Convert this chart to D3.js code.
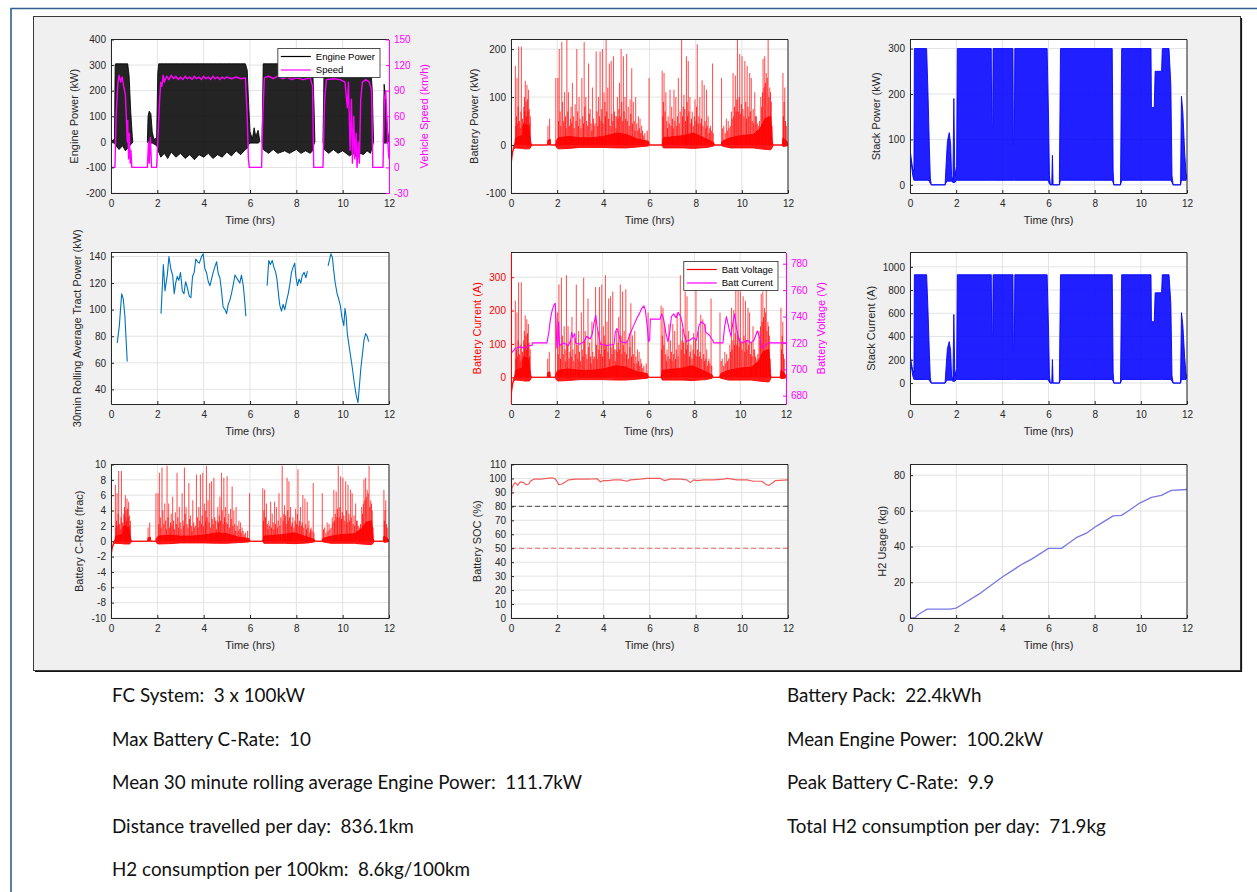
<!DOCTYPE html>
<html>
<head>
<meta charset="utf-8">
<script src="https://cdn.jsdelivr.net/npm/d3@7"></script>
<style>
body { margin: 0; background: #fff; }
svg { display: block; }
</style>
</head>
<body>
<script>
// ---------- data ----------
const timeTicks = [0, 2, 4, 6, 8, 10, 12];
const enginePowerTicks = [-200, -100, 0, 100, 200, 300, 400];
const speedTicks = [-30, 0, 30, 60, 90, 120, 150];
const battPowerTicks = [-100, 0, 100, 200];
const stackPowerTicks = [0, 100, 200, 300];
const rollTicks = [40, 60, 80, 100, 120, 140];
const battCurrentTicks = [0, 100, 200, 300];
const battVoltTicks = [680, 700, 720, 740, 760, 780];
const stackCurrentTicks = [0, 200, 400, 600, 800, 1000];
const cRateTicks = [-10, -8, -6, -4, -2, 0, 2, 4, 6, 8, 10];
const socTicks = [0, 10, 20, 30, 40, 50, 60, 70, 80, 90, 100, 110];
const h2Ticks = [0, 20, 40, 60, 80];

const legend1 = ["Engine Power", "Speed"];
const legend5 = ["Batt Voltage", "Batt Current"];

const packKWh = 22.4;      // battery pack size
const battVoltNom = 720;   // V, nominal pack voltage
const stackVolt = 322;     // V, stack voltage at rated power

// engine power envelope [t hrs, low kW, high kW]
const engineBand = [
  [0, -2, 2], [0.15, -5, 10], [0.18, -10, 300], [0.2, -15, 305], [0.35, -30, 305], [0.5, -15, 305], [0.62, -35, 305],
  [0.72, -25, 305], [0.78, -20, 260], [0.85, -10, 120], [0.92, -5, 20], [0.94, 0, 2], [0.95, null, null],
  [1.57, 0, 2], [1.6, -5, 100], [1.65, -8, 120], [1.72, -5, 110], [1.78, -5, 40], [1.85, -8, 10],
  [1.97, -15, 15], [2.02, -25, 270], [2.06, -40, 305], [2.15, -60, 305], [2.3, -45, 305], [2.45, -65, 305],
  [2.6, -40, 305], [2.8, -60, 305], [3.0, -45, 305], [3.2, -65, 305], [3.4, -50, 305], [3.6, -70, 305],
  [3.8, -50, 305], [4.0, -60, 305], [4.2, -45, 305], [4.4, -65, 305], [4.6, -50, 305], [4.8, -60, 305],
  [5.0, -40, 305], [5.2, -55, 305], [5.4, -35, 305], [5.6, -50, 305], [5.8, -30, 305], [5.88, -25, 280],
  [5.94, -10, 150], [6.0, -5, 40], [6.1, -5, 10], [6.18, -5, 55], [6.25, -5, 20], [6.35, -5, 45], [6.42, 0, 5],
  [6.45, null, null],
  [6.52, 0, 5], [6.57, -30, 305], [6.8, -45, 305], [7.0, -30, 305], [7.2, -45, 305], [7.5, -35, 305],
  [7.7, -45, 305], [8.0, -30, 305], [8.2, -45, 300], [8.4, -35, 300], [8.6, -45, 300], [8.7, -35, 300],
  [8.76, -10, 150], [8.8, 0, 5], [8.82, null, null],
  [9.15, 0, 5], [9.2, -30, 300], [9.4, -45, 300], [9.6, -30, 300], [9.8, -45, 300], [10.0, -35, 300],
  [10.3, -55, 290], [10.45, -45, 280], [10.6, -60, 260], [10.75, -45, 290], [10.9, -50, 300], [11.05, -35, 300],
  [11.2, -45, 300], [11.28, -20, 200], [11.33, 0, 5], [11.35, null, null],
  [11.75, 0, 5], [11.79, -5, 225], [11.85, -5, 170], [11.93, -5, 50], [12, 0, 5]
];

// vehicle speed [t hrs, km/h]
const speed = [
  [0, 0], [0.17, 0], [0.22, 60], [0.3, 100], [0.35, 108], [0.42, 100], [0.48, 106], [0.55, 95], [0.62, 85],
  [0.66, 60], [0.7, 30], [0.72, 55], [0.76, 10], [0.79, 40], [0.83, 5], [0.86, 20], [0.9, 0], [1.57, 0],
  [1.62, 30], [1.65, 5], [1.7, 35], [1.75, 0], [1.97, 0], [2.05, 50], [2.1, 80], [2.15, 100], [2.2, 95],
  [2.25, 108], [2.3, 100], [2.4, 107], [2.5, 103], [2.6, 108], [2.7, 104], [2.8, 107], [2.9, 103], [3.0, 106],
  [3.1, 103], [3.2, 107], [3.3, 104], [3.4, 106], [3.5, 103], [3.6, 107], [3.7, 104], [3.8, 106], [3.9, 103],
  [4.0, 107], [4.1, 104], [4.2, 106], [4.3, 103], [4.4, 107], [4.5, 104], [4.6, 106], [4.7, 103], [4.8, 106],
  [4.9, 104], [5.0, 106], [5.2, 104], [5.4, 106], [5.6, 104], [5.8, 105], [5.88, 60], [5.93, 10], [5.97, 0],
  [6.5, 0], [6.55, 60], [6.62, 105], [6.8, 107], [7.0, 104], [7.2, 107], [7.4, 104], [7.6, 106], [7.8, 103],
  [8.0, 105], [8.3, 103], [8.6, 105], [8.7, 95], [8.75, 0],
  [9.15, 0], [9.22, 80], [9.3, 103], [9.6, 104], [9.9, 103], [10.1, 100], [10.2, 70], [10.25, 100], [10.32, 20],
  [10.38, 80], [10.42, 5], [10.48, 60], [10.52, 10], [10.58, 40], [10.62, 0], [10.68, 30], [10.72, 5],
  [10.78, 80], [10.85, 100], [11.0, 103], [11.15, 100], [11.25, 90], [11.3, 0], [11.74, 0], [11.8, 80],
  [11.86, 90], [11.92, 50], [11.97, 20], [12, 10]
];

// battery power: dense base band [t, low kW, high kW], large spike peaks and smaller spikes [t, kW]
const batteryBand = [
  [0, -50, -50], [0.04, -25, -20], [0.1, -10, -6], [0.17, -6, 5], [0.2, -6, 15], [0.5, -7, 20], [0.55, -8, 45],
  [0.75, -8, 40], [0.8, -8, 25], [0.86, -4, 5], [0.9, 0, 0], [1.58, 0, 0], [1.6, 0, 10], [1.7, 0, 12],
  [1.72, 0, 0], [1.93, 0, 0], [1.97, -5, 10], [2.05, -8, 15], [2.5, -7, 18], [3.0, -5, 15], [3.5, -5, 15],
  [4.0, -5, 18], [4.6, -6, 25], [5.0, -6, 22], [5.5, -4, 12], [5.95, -2, 8], [6.0, 0, 0], [6.55, 0, 0],
  [6.6, -6, 15], [7.5, -6, 20], [7.9, -7, 25], [8.5, -5, 12], [8.78, -2, 5], [8.82, 0, 0], [9.1, 0, 0],
  [9.15, -2, 8], [9.5, -6, 15], [10.0, -6, 20], [10.5, -6, 22], [10.8, -8, 35], [11.0, -9, 55], [11.25, -10, 60],
  [11.32, -5, 8], [11.35, 0, 0], [11.75, 0, 0], [11.78, -3, 15], [11.95, -2, 8], [12, 0, 0]
];
const batteryPeaks = [
  [0.19, 165], [0.26, 140], [0.33, 205], [0.45, 205], [0.55, 80], [0.62, 134], [0.69, 125], [0.76, 115], [0.84, 60],
  [1.6, 40], [1.67, 55],
  [1.94, 140], [2.03, 140], [2.09, 200], [2.2, 215], [2.32, 110], [2.42, 220], [2.49, 110], [2.6, 80], [2.66, 130],
  [2.78, 85], [2.85, 200], [2.95, 100], [3.07, 140], [3.17, 215], [3.24, 100], [3.36, 170], [3.43, 75], [3.53, 120],
  [3.6, 40], [3.69, 195], [3.79, 100], [3.86, 195], [3.96, 200], [4.03, 110], [4.12, 220], [4.19, 120], [4.26, 170],
  [4.34, 175], [4.44, 185], [4.51, 60], [4.61, 100], [4.7, 130], [4.77, 200], [4.87, 185], [4.94, 100], [5.01, 190],
  [5.08, 80], [5.16, 95], [5.23, 160], [5.3, 90], [5.4, 100], [5.52, 60], [5.59, 55], [5.66, 40], [5.98, 140],
  [6.55, 155], [6.63, 150], [6.71, 110], [6.81, 60], [6.89, 115], [6.96, 80], [7.06, 115], [7.14, 100], [7.25, 140],
  [7.39, 220], [7.49, 105], [7.6, 185], [7.68, 175], [7.75, 100], [7.85, 70], [7.97, 95], [8.07, 210], [8.18, 100],
  [8.28, 135], [8.37, 125], [8.47, 115], [8.54, 60], [8.64, 40], [8.73, 170],
  [9.12, 140], [9.22, 40], [9.33, 55], [9.41, 50], [9.55, 70], [9.62, 150], [9.72, 145], [9.81, 220], [9.91, 190],
  [10.01, 185], [10.13, 175], [10.23, 165], [10.34, 150], [10.41, 140], [10.56, 110], [10.63, 60], [10.73, 40],
  [10.82, 100], [10.92, 180], [10.99, 185], [11.06, 150], [11.14, 220], [11.21, 120], [11.28, 90],
  [11.78, 150], [11.86, 120], [11.93, 40]
];
const batteryMinor = [
  [0.21, 40], [0.24, 60], [0.29, 45], [0.31, 80], [0.37, 50], [0.4, 35], [0.43, 70], [0.48, 40], [0.5, 55],
  [0.58, 100], [0.6, 70], [0.65, 90], [0.67, 60], [0.72, 95], [0.74, 70], [0.79, 75], [0.81, 45],
  [2.06, 50], [2.13, 70], [2.16, 40], [2.24, 90], [2.28, 50], [2.36, 60], [2.39, 35], [2.46, 70], [2.53, 40],
  [2.57, 55], [2.63, 45], [2.7, 60], [2.74, 35], [2.82, 50], [2.89, 70], [2.92, 40], [2.99, 55], [3.03, 35],
  [3.11, 60], [3.14, 45], [3.2, 80], [3.28, 50], [3.32, 40], [3.39, 65], [3.47, 45], [3.5, 30], [3.57, 55],
  [3.64, 45], [3.73, 70], [3.76, 40], [3.83, 60], [3.9, 50], [3.93, 75], [3.99, 45], [4.07, 90], [4.09, 60],
  [4.15, 70], [4.23, 55], [4.3, 40], [4.37, 65], [4.41, 50], [4.48, 70], [4.55, 35], [4.58, 60], [4.64, 55],
  [4.67, 75], [4.73, 60], [4.8, 90], [4.84, 50], [4.9, 70], [4.97, 55], [5.04, 50], [5.12, 40], [5.19, 65],
  [5.26, 45], [5.34, 50], [5.37, 30], [5.45, 45], [5.49, 30], [5.56, 35], [5.62, 25], [5.7, 30], [5.75, 20],
  [5.8, 25], [5.9, 30],
  [6.58, 60], [6.6, 90], [6.67, 70], [6.75, 50], [6.78, 35], [6.85, 45], [6.93, 40], [7.0, 55], [7.03, 35],
  [7.1, 50], [7.18, 40], [7.21, 60], [7.29, 45], [7.33, 70], [7.43, 60], [7.46, 80], [7.53, 75], [7.56, 50],
  [7.63, 90], [7.65, 60], [7.71, 70], [7.79, 45], [7.82, 55], [7.9, 40], [7.94, 60], [8.01, 50], [8.04, 80],
  [8.11, 45], [8.14, 60], [8.22, 45], [8.25, 55], [8.32, 40], [8.41, 50], [8.44, 35], [8.5, 40], [8.58, 25],
  [8.61, 35], [8.68, 30], [8.76, 25],
  [9.17, 35], [9.28, 25], [9.37, 30], [9.45, 35], [9.5, 40], [9.58, 55], [9.65, 60], [9.68, 80], [9.75, 70],
  [9.78, 95], [9.85, 70], [9.88, 100], [9.95, 65], [9.98, 85], [10.05, 75], [10.09, 60], [10.17, 90], [10.2, 55],
  [10.27, 80], [10.3, 60], [10.37, 70], [10.45, 50], [10.49, 75], [10.52, 45], [10.6, 60], [10.67, 45], [10.7, 30],
  [10.77, 50], [10.86, 80], [10.89, 110], [10.96, 120], [11.02, 130], [11.1, 140], [11.17, 100], [11.24, 110],
  [11.31, 40], [11.8, 60], [11.83, 90], [11.89, 50]
];

// fuel cell stack power envelope [t, low kW, high kW]
const stackBand = [
  [0, 70, 80], [0.06, 45, 55], [0.12, 20, 35], [0.17, 10, 30], [0.19, 10, 300], [0.72, 10, 300], [0.78, 10, 200],
  [0.84, 8, 80], [0.88, 3, 15], [0.92, 0, 0], [1.52, 0, 0], [1.56, 5, 40], [1.62, 8, 95], [1.7, 8, 115],
  [1.76, 8, 90], [1.8, 8, 20], [1.86, 5, 10], [1.9, 5, 190], [1.94, 5, 20], [2.02, 10, 40], [2.05, 10, 300],
  [3.52, 10, 300], [3.54, 10, 130], [3.58, 10, 130], [3.6, 10, 300], [4.46, 10, 300], [4.48, 10, 90],
  [4.52, 10, 90], [4.54, 10, 300], [5.94, 10, 300], [6.0, 8, 150], [6.04, 2, 20], [6.08, 0, 0], [6.14, 0, 0],
  [6.17, 0, 65], [6.2, 0, 0], [6.47, 0, 0], [6.52, 10, 300], [8.76, 10, 300], [8.8, 5, 30], [8.83, 0, 0],
  [9.12, 0, 0], [9.17, 10, 300], [10.44, 10, 300], [10.46, 10, 170], [10.58, 10, 170], [10.62, 10, 250],
  [10.9, 10, 250], [10.93, 10, 300], [11.22, 10, 300], [11.3, 10, 220], [11.35, 5, 20], [11.4, 0, 0],
  [11.72, 0, 0], [11.76, 10, 195], [11.82, 10, 160], [11.9, 10, 70], [11.96, 10, 25], [12, 15, 20]
];

// 30 min rolling average tractive power [t, kW], null = gap
const rollAvg = [
  [0.27, 75], [0.36, 88], [0.46, 112], [0.53, 108], [0.6, 95], [0.7, 61], [0.71, null],
  [2.16, 97], [2.26, 134], [2.33, 114], [2.43, 126], [2.5, 140], [2.59, 130], [2.66, 126], [2.73, 112], [2.79, 120],
  [2.86, 125], [2.93, 122], [3.0, 128], [3.08, 114], [3.15, 112], [3.22, 121], [3.29, 117], [3.38, 110], [3.45, 109],
  [3.52, 125], [3.59, 128], [3.66, 138], [3.74, 136], [3.81, 135], [3.91, 140], [3.98, 142], [4.05, 131], [4.12, 128],
  [4.2, 121], [4.27, 118], [4.34, 123], [4.41, 128], [4.48, 132], [4.56, 136], [4.63, 127], [4.7, 124], [4.77, 114],
  [4.84, 102], [4.92, 100], [4.99, 97], [5.06, 104], [5.13, 107], [5.2, 112], [5.27, 118], [5.35, 126], [5.42, 124],
  [5.49, 122], [5.56, 120], [5.63, 126], [5.71, 118], [5.78, 105], [5.82, 95], [5.83, null],
  [6.74, 118], [6.81, 137], [6.88, 134], [6.96, 137], [7.03, 132], [7.11, 128], [7.17, 122], [7.24, 110], [7.29, 103],
  [7.36, 99], [7.43, 104], [7.5, 100], [7.57, 106], [7.65, 112], [7.72, 119], [7.79, 128], [7.86, 132], [7.93, 135],
  [7.98, 125], [8.05, 118], [8.12, 123], [8.19, 120], [8.26, 126], [8.34, 128], [8.41, 124], [8.48, 129], [8.49, null],
  [9.37, 133], [9.44, 138], [9.49, 142], [9.56, 139], [9.61, 130], [9.67, 121], [9.76, 112], [9.83, 108], [9.9, 103],
  [9.97, 94], [10.05, 88], [10.1, 101], [10.15, 95], [10.2, 82], [10.3, 70], [10.41, 57], [10.5, 45], [10.58, 36],
  [10.66, 30], [10.72, 42], [10.78, 55], [10.85, 66], [10.92, 77], [10.99, 82], [11.06, 80], [11.12, 76]
];

// battery voltage [t, V]
const battVolt = [
  [0, 712], [0.1, 714], [0.2, 716], [0.4, 717], [0.6, 716], [0.8, 718], [0.92, 718], [0.93, 720], [1.57, 720],
  [1.65, 728], [1.72, 738], [1.8, 745], [1.88, 749], [1.93, 750], [1.97, 735], [2.0, 716], [2.05, 722], [2.08, 736],
  [2.12, 718], [2.3, 720], [2.5, 718], [2.6, 722], [2.65, 728], [2.7, 724], [2.78, 727], [2.82, 720], [3.0, 719],
  [3.2, 721], [3.3, 725], [3.45, 723], [3.55, 727], [3.62, 735], [3.7, 741], [3.75, 733], [3.85, 724], [3.9, 719],
  [4.2, 718], [4.5, 719], [4.55, 728], [4.62, 731], [4.7, 727], [4.77, 721], [5.0, 720], [5.1, 722], [5.2, 727],
  [5.3, 731], [5.4, 735], [5.5, 739], [5.6, 742], [5.7, 746], [5.8, 748], [5.86, 745], [5.95, 732], [6.0, 721],
  [6.05, 722], [6.08, 738], [6.5, 738], [6.58, 742], [6.66, 738], [6.75, 728], [6.85, 721], [6.92, 727], [7.0, 740],
  [7.1, 742], [7.2, 739], [7.3, 743], [7.4, 740], [7.46, 736], [7.55, 727], [7.65, 721], [7.8, 722], [7.95, 724],
  [8.1, 722], [8.2, 733], [8.3, 736], [8.45, 734], [8.5, 728], [8.65, 726], [8.8, 722], [8.85, 720], [9.25, 720],
  [9.32, 732], [9.4, 740], [9.5, 732], [9.6, 725], [9.68, 735], [9.76, 742], [9.85, 730], [9.95, 722], [10.1, 720],
  [10.3, 722], [10.45, 720], [10.6, 722], [10.75, 729], [10.85, 724], [10.95, 716], [11.1, 718], [11.25, 720], [12, 720]
];

// battery state of charge [t, %] and its limit lines
const soc = [
  [0, 80.5], [0.04, 93], [0.12, 96], [0.19, 97], [0.29, 95], [0.4, 97.5], [0.55, 97], [0.65, 95.5], [0.77, 96],
  [0.84, 98], [0.98, 99.5], [1.27, 99.5], [1.56, 100], [1.78, 100.5], [1.92, 99.5], [1.99, 98], [2.07, 95.5],
  [2.21, 96], [2.35, 97.5], [2.5, 99], [2.79, 99.5], [3.29, 99.5], [3.73, 99.8], [3.87, 97.5], [4.01, 98.5],
  [4.23, 98.5], [4.45, 99], [4.74, 99], [5.03, 98], [5.17, 99], [5.6, 99.5], [5.89, 100], [6.18, 100], [6.47, 100],
  [6.64, 98.5], [6.9, 99.5], [7.34, 99.5], [7.62, 99], [7.77, 97], [7.91, 99], [8.06, 98.5], [8.35, 99], [8.78, 99],
  [9.21, 99.5], [9.36, 100], [9.79, 99], [10.22, 99], [10.51, 98], [10.87, 98], [11.02, 96], [11.16, 95],
  [11.31, 96.5], [11.45, 98.5], [12, 99]
];
const socLimits = [80, 50];

// cumulative hydrogen usage [t, kg]
const h2 = [
  [0, 0], [0.22, 0.2], [0.36, 2], [0.55, 3.5], [0.75, 5], [1.73, 5], [1.99, 5.5], [2.19, 7], [3.0, 13.5], [4.0, 23],
  [4.9, 30.5], [5.27, 33], [6.0, 39], [6.56, 39], [6.78, 41], [7.2, 45], [7.64, 47.5], [8.08, 51.5], [8.8, 57.2],
  [9.16, 57.5], [9.52, 60.5], [9.95, 64.4], [10.46, 67.6], [10.89, 68.7], [11.32, 71.5], [12, 72]
];

const notesLeft = [
  "FC System:  3 x 100kW",
  "Max Battery C-Rate:  10",
  "Mean 30 minute rolling average Engine Power:  111.7kW",
  "Distance travelled per day:  836.1km",
  "H2 consumption per 100km:  8.6kg/100km"
];
const notesRight = [
  "Battery Pack:  22.4kWh",
  "Mean Engine Power:  100.2kW",
  "Peak Battery C-Rate:  9.9",
  "Total H2 consumption per day:  71.9kg"
];

// ---------- layout ----------
const FONT = '"Liberation Sans", Arial, Helvetica, sans-serif';
const INK = "#262626";
const cols = [[111, 389], [511, 788], [910, 1187]];
const rows = [[39.5, 193], [252.5, 404], [464.5, 618]];

const svg = d3.select("body").append("svg").attr("width", 1257).attr("height", 892);

// page frame and figure background
svg.append("path").attr("d", "M11,892V8.5H1257").attr("fill", "none").attr("stroke", "#2f5f8f").attr("stroke-width", 1.6);
svg.append("rect").attr("x", 33.5).attr("y", 16.5).attr("width", 1207).attr("height", 654)
  .attr("fill", "#f0f0f0").attr("stroke", "#3a3a3a");
svg.append("path").attr("d", "M35,671.5H1241.5V18").attr("fill", "none").attr("stroke", "#111").attr("stroke-width", 1.2);

let clipN = 0;
function makePanel(col, row, yDomain, xr) {
  const [x0, x1] = xr || cols[col];
  const [y0, y1] = rows[row];
  const x = d3.scaleLinear().domain([0, 12]).range([x0, x1]);
  const y = d3.scaleLinear().domain(yDomain).range([y1, y0]);
  const g = svg.append("g");
  g.append("rect").attr("x", x0).attr("y", y0).attr("width", x1 - x0).attr("height", y1 - y0).attr("fill", "#fff");
  const id = "clip" + clipN++;
  svg.append("clipPath").attr("id", id).append("rect")
    .attr("x", x0).attr("y", y0).attr("width", x1 - x0).attr("height", y1 - y0);
  const grid = g.append("g");
  const plot = g.append("g").attr("clip-path", `url(#${id})`);
  const axes = g.append("g");
  return { x, y, g, grid, plot, axes, x0, x1, y0, y1 };
}

function drawGrid(p, yTicks) {
  p.grid.selectAll("line.gx").data(timeTicks).join("line").attr("class", "gx")
    .attr("x1", d => p.x(d)).attr("x2", d => p.x(d)).attr("y1", p.y0).attr("y2", p.y1);
  p.grid.selectAll("line.gy").data(yTicks).join("line").attr("class", "gy")
    .attr("x1", p.x0).attr("x2", p.x1).attr("y1", d => p.y(d)).attr("y2", d => p.y(d));
  p.grid.selectAll("line").attr("stroke", "#e3e3e3").attr("stroke-width", 1);
}

function styleAxis(sel, color) {
  sel.attr("font-family", FONT).attr("font-size", 10).attr("color", color);
  sel.selectAll("text").attr("fill", color);
}

function yLabelAt(p, cx, text, color) {
  p.axes.append("text").attr("transform", `translate(${cx},${(p.y0 + p.y1) / 2}) rotate(-90)`)
    .attr("dy", "0.35em").attr("text-anchor", "middle").attr("font-family", FONT).attr("font-size", 11)
    .attr("fill", color).text(text);
}

function drawAxes(p, yTicks, yLabel, opt = {}) {
  const leftColor = opt.leftColor || INK;
  const xa = p.axes.append("g").attr("transform", `translate(0,${p.y1})`)
    .call(d3.axisBottom(p.x).tickValues(timeTicks).tickFormat(d => String(d)).tickSize(-3).tickSizeOuter(0).tickPadding(7));
  styleAxis(xa, INK);
  p.axes.append("line").attr("x1", p.x0).attr("x2", p.x1).attr("y1", p.y0).attr("y2", p.y0).attr("stroke", INK);

  const ya = p.axes.append("g").attr("transform", `translate(${p.x0},0)`)
    .call(d3.axisLeft(p.y).tickValues(yTicks).tickFormat(d => String(d)).tickSize(-3).tickSizeOuter(0).tickPadding(5));
  styleAxis(ya, leftColor);
  // bbox is in the axis group's own coordinates, so add its translation back
  const lb = ya.node().getBBox();
  yLabelAt(p, p.x0 + lb.x - 12, yLabel, leftColor);

  if (opt.right) {
    const r = opt.right;
    const ra = p.axes.append("g").attr("transform", `translate(${p.x1},0)`)
      .call(d3.axisRight(r.scale).tickValues(r.ticks).tickFormat(d => String(d)).tickSize(-3).tickSizeOuter(0).tickPadding(5));
    styleAxis(ra, r.color);
    const rb = ra.node().getBBox();
    yLabelAt(p, p.x1 + rb.x + rb.width + 13, r.label, r.color);
  } else {
    p.axes.append("line").attr("x1", p.x1).attr("x2", p.x1).attr("y1", p.y0).attr("y2", p.y1).attr("stroke", INK);
  }

  p.axes.append("text").attr("x", (p.x0 + p.x1) / 2).attr("y", p.y1 + 27).attr("dy", "0.35em")
    .attr("text-anchor", "middle").attr("font-family", FONT).attr("font-size", 11).attr("fill", INK).text("Time (hrs)");
}

function bandArea(p, data, k, color, opacity) {
  const area = d3.area().defined(d => d[1] != null)
    .x(d => p.x(d[0])).y0(d => p.y(d[1] * k)).y1(d => p.y(d[2] * k));
  p.plot.append("path").attr("d", area(data)).attr("fill", color).attr("fill-opacity", opacity)
    .attr("stroke", color).attr("stroke-width", 1).attr("stroke-opacity", opacity);
}

function spikeLines(p, data, k, color, width, opacity) {
  const path = d3.path();
  data.forEach(([t, v]) => { path.moveTo(p.x(t), p.y(0)); path.lineTo(p.x(t), p.y(v * k)); });
  p.plot.append("path").attr("d", path.toString()).attr("fill", "none")
    .attr("stroke", color).attr("stroke-width", width).attr("stroke-opacity", opacity);
}

function battery(p, k) {
  bandArea(p, batteryBand, k, "#ff0000", 0.9);
  spikeLines(p, batteryMinor, k, "#ff0000", 1, 0.8);
  spikeLines(p, batteryPeaks, k, "#ff0000", 1.1, 0.65);
}

function trace(p, yScale, data, color, width, opacity = 1) {
  const line = d3.line().defined(d => d[1] != null).x(d => p.x(d[0])).y(d => yScale(d[1]));
  return p.plot.append("path").attr("d", line(data)).attr("fill", "none")
    .attr("stroke", color).attr("stroke-width", width).attr("stroke-opacity", opacity).attr("stroke-linejoin", "round");
}

function legend(p, names, colors, offX) {
  const lg = p.axes.append("g");
  const texts = names.map(n => lg.append("text").attr("font-family", FONT).attr("font-size", 9.5)
    .attr("fill", "#000").attr("dy", "0.35em").text(n));
  const tw = d3.max(texts, t => t.node().getComputedTextLength());
  const w = 38 + tw + 5, h = 29;
  const bx = p.x1 - offX - w, by = p.y0 + 9;
  lg.insert("rect", "text").attr("x", bx).attr("y", by).attr("width", w).attr("height", h)
    .attr("fill", "#fff").attr("stroke", INK).attr("stroke-width", 0.8);
  names.forEach((n, i) => {
    const cy = by + 8 + i * 13.5;
    lg.append("line").attr("x1", bx + 3).attr("x2", bx + 33).attr("y1", cy).attr("y2", cy)
      .attr("stroke", colors[i]).attr("stroke-width", 1.2);
    texts[i].attr("x", bx + 38).attr("y", cy);
  });
}

// ---------- row 1 ----------
const p1 = makePanel(0, 0, [-200, 400]);
const p1r = d3.scaleLinear().domain([-30, 150]).range([p1.y1, p1.y0]);
drawGrid(p1, enginePowerTicks);
bandArea(p1, engineBand, 1, "#000", 0.86);
trace(p1, p1r, speed, "#ff00ff", 1.4);
drawAxes(p1, enginePowerTicks, "Engine Power (kW)",
  { right: { scale: p1r, ticks: speedTicks, label: "Vehicle Speed (km/h)", color: "#ff00ff" } });
legend(p1, legend1, ["#000", "#ff00ff"], 9);

const p2 = makePanel(1, 0, [-100, 220]);
drawGrid(p2, battPowerTicks);
battery(p2, 1);
drawAxes(p2, battPowerTicks, "Battery Power (kW)");

const p3 = makePanel(2, 0, [-18, 320]);
drawGrid(p3, stackPowerTicks);
bandArea(p3, stackBand, 1, "#0000ff", 0.88);
drawAxes(p3, stackPowerTicks, "Stack Power (kW)");

// ---------- row 2 ----------
const p4 = makePanel(0, 1, [29, 143]);
drawGrid(p4, rollTicks);
trace(p4, p4.y, rollAvg, "#0072bd", 1.1);
drawAxes(p4, rollTicks, "30min Rolling Average Tract Power (kW)");

const p5 = makePanel(1, 1, [-80, 374], [511, 786]);
const p5r = d3.scaleLinear().domain([673.7, 788.5]).range([p5.y1, p5.y0]);
drawGrid(p5, battCurrentTicks);
battery(p5, 1000 / battVoltNom);
trace(p5, p5r, battVolt, "#ff00ff", 1.1);
drawAxes(p5, battCurrentTicks, "Battery Current (A)",
  { leftColor: "#ff0000", right: { scale: p5r, ticks: battVoltTicks, label: "Battery Voltage (V)", color: "#ff00ff" } });
legend(p5, legend5, ["#ff0000", "#ff00ff"], 8);

const p6 = makePanel(2, 1, [-180, 1123]);
drawGrid(p6, stackCurrentTicks);
bandArea(p6, stackBand, 1000 / stackVolt, "#0000ff", 0.88);
drawAxes(p6, stackCurrentTicks, "Stack Current (A)");

// ---------- row 3 ----------
const p7 = makePanel(0, 2, [-10, 10]);
drawGrid(p7, cRateTicks);
battery(p7, 1 / packKWh);
drawAxes(p7, cRateTicks, "Battery C-Rate (frac)");

const p8 = makePanel(1, 2, [0, 110]);
drawGrid(p8, socTicks);
p8.plot.selectAll("line.lim").data(socLimits).join("line").attr("class", "lim")
  .attr("x1", p8.x0).attr("x2", p8.x1).attr("y1", d => p8.y(d)).attr("y2", d => p8.y(d))
  .attr("stroke", (d, i) => i === 0 ? "#666" : "#f06a6a").attr("stroke-width", 1.1).attr("stroke-dasharray", "5,3");
trace(p8, p8.y, soc, "#ee4040", 1.2, 0.85);
drawAxes(p8, socTicks, "Battery SOC (%)");

const p9 = makePanel(2, 2, [0, 86]);
drawGrid(p9, h2Ticks);
trace(p9, p9.y, h2, "#7878e6", 1.3);
drawAxes(p9, h2Ticks, "H2 Usage (kg)");

// ---------- notes below the figure ----------
const notes = svg.append("g").attr("font-family", "Lato, 'Open Sans', sans-serif").attr("font-size", 18.5).attr("fill", "#111");
function noteColumn(lines, x) {
  return lines.map((s, i) => notes.append("text").attr("x", x).attr("y", 702 + i * 43.5)
    .style("white-space", "pre").text(s));
}
const leftT = noteColumn(notesLeft, 112);
const rightT = noteColumn(notesRight, 787);
const squeeze = 470 / leftT[2].node().getComputedTextLength();
leftT.concat(rightT).forEach(t => {
  const w = t.node().getComputedTextLength();
  t.attr("textLength", w * squeeze).attr("lengthAdjust", "spacingAndGlyphs");
});
</script>
</body>
</html>
